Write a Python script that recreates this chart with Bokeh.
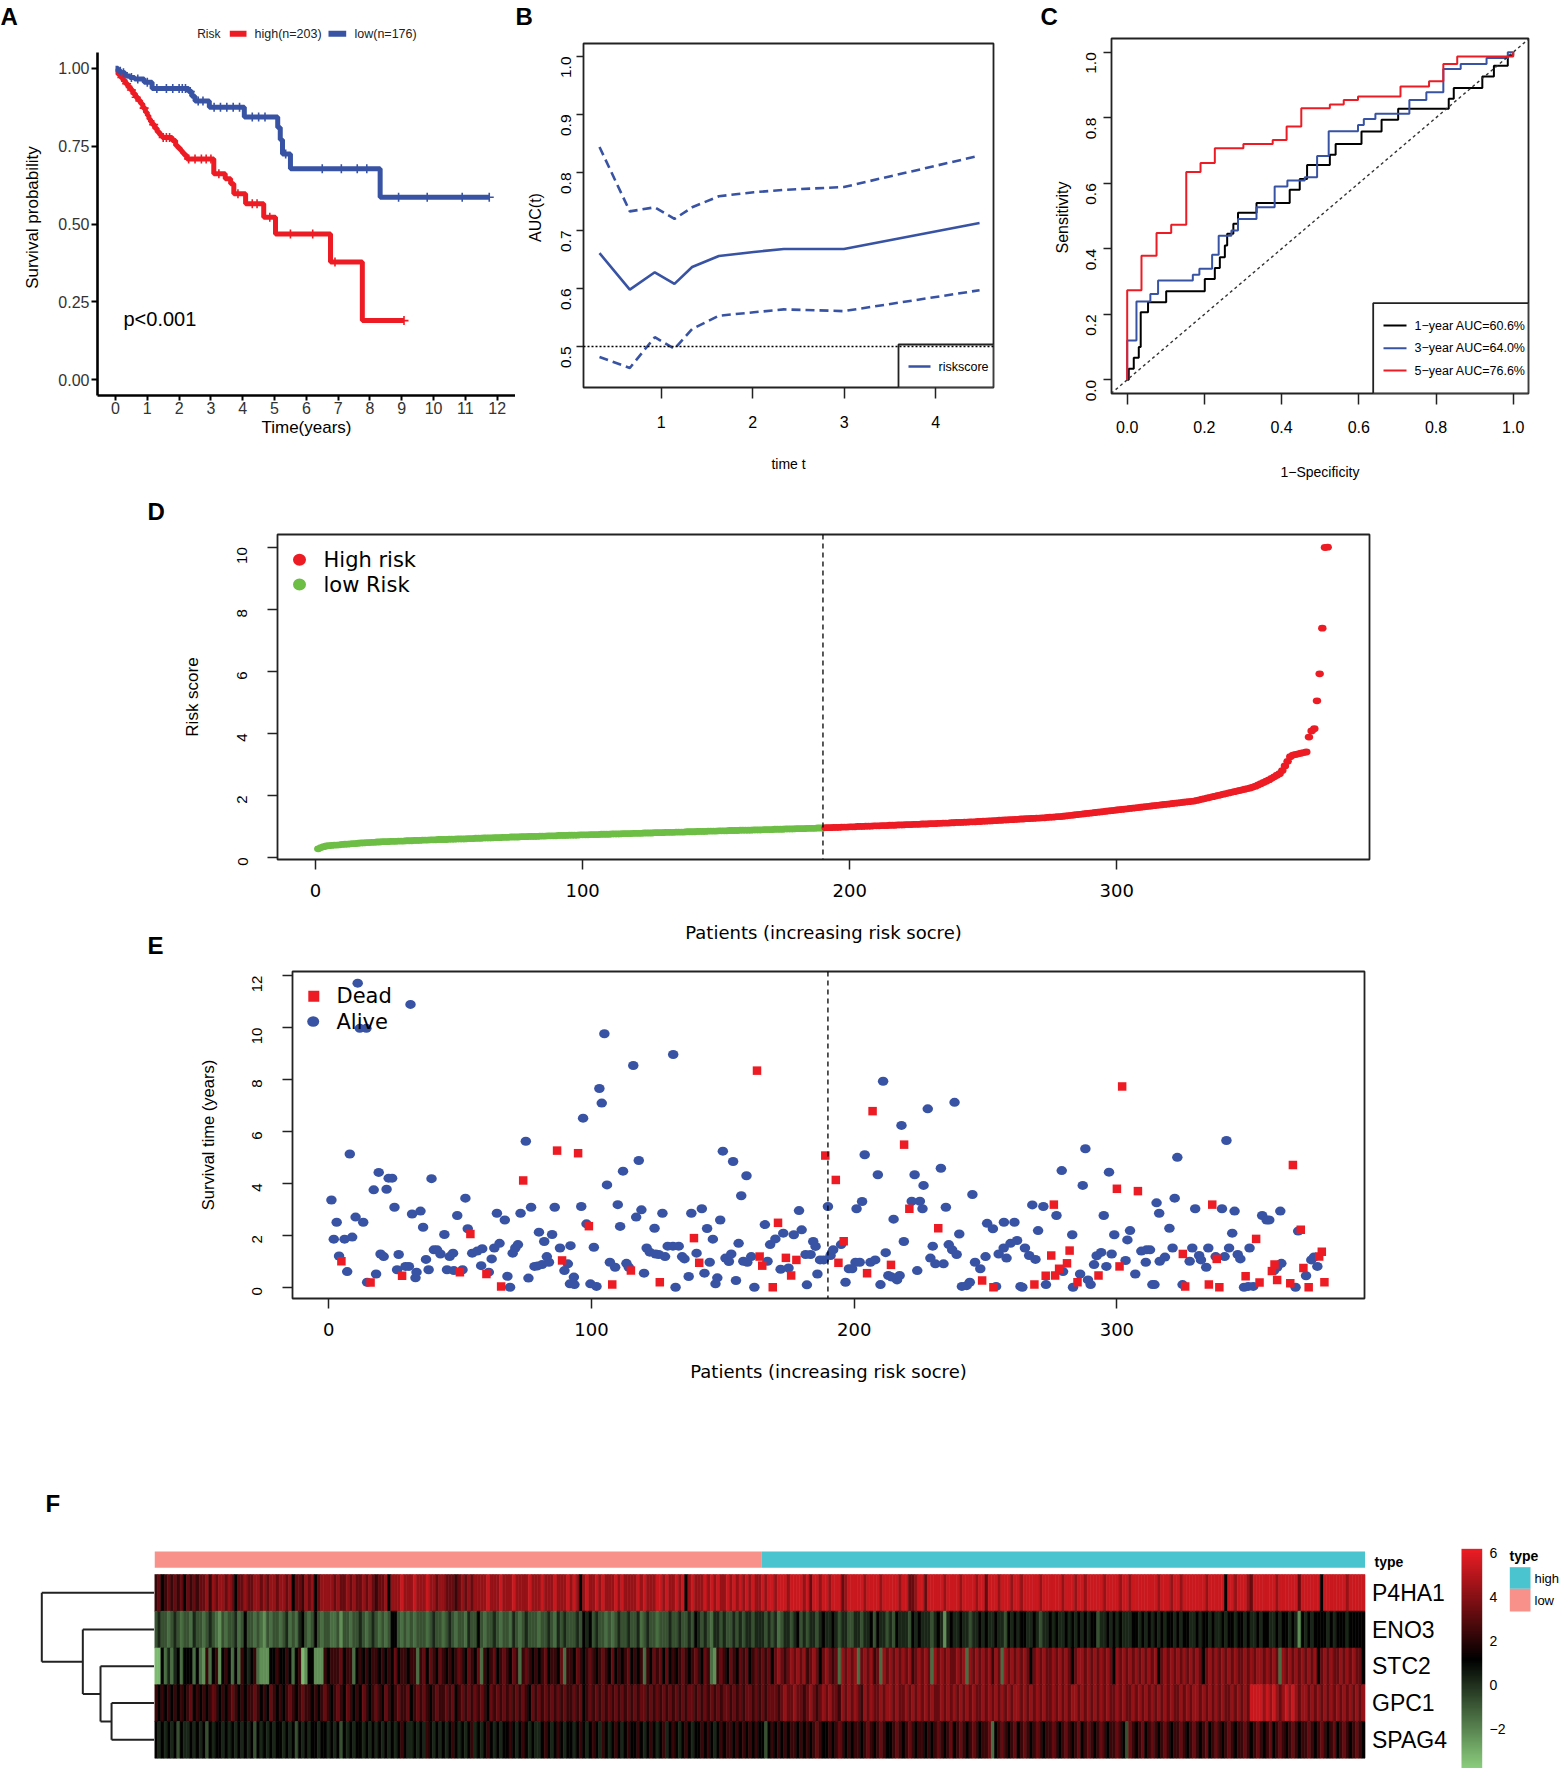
import math
import numpy as np
from bokeh.plotting import figure
from bokeh.layouts import column, row
from bokeh.models import Range1d, FixedTicker, Span, Slope, LinearColorMapper, NumeralTickFormatter
from bokeh.embed import file_html
from bokeh.resources import INLINE
from bokeh.core.properties import value

# ======================= DATA =======================
# A: Kaplan-Meier steps (time in years, survival after the step)
km_low_t = [0, 0.08, 0.18, 0.30, 0.45, 0.60, 0.90, 1.15, 2.30, 2.40, 2.50, 2.95, 4.05, 5.10, 5.18, 5.25, 5.50, 8.32, 11.75]
km_low_s = [1.0, 0.99, 0.985, 0.975, 0.97, 0.965, 0.955, 0.935, 0.925, 0.91, 0.895, 0.875, 0.843, 0.81, 0.77, 0.725, 0.677, 0.586, 0.586]
km_high_t = [0, 0.08, 0.16, 0.24, 0.31, 0.39, 0.47, 0.55, 0.63, 0.71, 0.79, 0.86, 0.94, 1.00, 1.05, 1.10, 1.15, 1.23, 1.31, 1.39,
             1.47, 1.78, 1.89, 1.96, 2.04, 2.10, 2.17, 2.25, 3.09, 3.45, 3.62, 3.72, 4.09, 4.66, 5.03, 6.76, 7.76, 9.07]
km_high_s = [0.99, 0.98, 0.97, 0.96, 0.95, 0.94, 0.93, 0.918, 0.907, 0.896, 0.886, 0.872, 0.859, 0.848, 0.837, 0.828, 0.819, 0.807, 0.795, 0.786,
             0.778, 0.768, 0.752, 0.744, 0.736, 0.728, 0.72, 0.709, 0.661, 0.645, 0.629, 0.597, 0.565, 0.522, 0.468, 0.378, 0.19, 0.19]
cens_low_t = [0.15, 0.25, 0.5, 0.7, 1.0, 1.3, 1.6, 1.8, 2.0, 2.1, 2.2, 2.35, 2.6, 2.75, 3.1, 3.3, 3.5, 3.7, 3.9, 4.3, 4.5, 4.7,
              5.35, 6.5, 7.1, 7.6, 7.9, 8.9, 9.8, 10.9, 11.75]
cens_high_t = [0.2, 0.35, 0.5, 0.65, 0.9, 1.2, 1.5, 1.6, 1.7, 2.3, 2.5, 2.7, 2.85, 3.0, 3.25, 3.85, 4.3, 4.45, 4.85, 5.5, 6.2, 6.9, 9.07]
km_labels = ["high(n=203)", "low(n=176)"]

# B: time-dependent AUC
auc_t = [0.326, 0.657, 0.930, 1.145, 1.338, 1.630, 2.012, 2.340, 2.996, 4.478]
auc_mid = [0.661, 0.598, 0.628, 0.608, 0.637, 0.656, 0.663, 0.668, 0.668, 0.713]
auc_up = [0.844, 0.733, 0.740, 0.720, 0.740, 0.759, 0.766, 0.770, 0.775, 0.829]
auc_lo = [0.482, 0.463, 0.516, 0.496, 0.530, 0.553, 0.559, 0.564, 0.561, 0.597]

# C: ROC curves
roc1_x = [0, 0.004, 0.017, 0.030, 0.035, 0.054, 0.101, 0.201, 0.227, 0.240, 0.253, 0.259, 0.275, 0.287, 0.335,
          0.421, 0.447, 0.466, 0.525, 0.540, 0.607, 0.659, 0.702, 0.833, 0.846, 0.920, 0.950, 0.986, 1.0]
roc1_y = [0, 0.034, 0.067, 0.100, 0.206, 0.237, 0.270, 0.308, 0.341, 0.374, 0.410, 0.446, 0.476, 0.510, 0.540,
          0.580, 0.613, 0.656, 0.687, 0.720, 0.758, 0.794, 0.827, 0.858, 0.891, 0.926, 0.959, 0.990, 1.0]
roc3_x = [0, 0, 0.024, 0.060, 0.080, 0.170, 0.187, 0.220, 0.237, 0.270, 0.287, 0.335, 0.382, 0.415, 0.460,
          0.492, 0.522, 0.598, 0.613, 0.643, 0.731, 0.775, 0.819, 0.864, 0.931, 0.986, 1.0]
roc3_y = [0, 0.12, 0.239, 0.262, 0.303, 0.321, 0.339, 0.382, 0.440, 0.456, 0.491, 0.527, 0.590, 0.608, 0.618,
          0.683, 0.759, 0.778, 0.796, 0.812, 0.854, 0.878, 0.949, 0.964, 0.982, 1.0, 1.0]
roc5_x = [0, 0, 0.037, 0.076, 0.114, 0.153, 0.190, 0.227, 0.301, 0.377, 0.413, 0.451, 0.525, 0.561, 0.598,
          0.708, 0.782, 0.819, 0.855, 1.0]
roc5_y = [0, 0.273, 0.379, 0.448, 0.473, 0.634, 0.662, 0.707, 0.720, 0.732, 0.773, 0.829, 0.840, 0.854, 0.865,
          0.895, 0.911, 0.964, 0.987, 1.0]
roc_labels = ["1\u2212year AUC=60.6%", "3\u2212year AUC=64.0%", "5\u2212year AUC=76.6%"]

# D: sorted risk scores (379 patients); first N_LOW are low risk
N_LOW = 190
risk_score = [
0.28,0.32,0.35,0.37,0.38,0.39,0.40,0.40,0.41,0.42,
0.43,0.43,0.44,0.45,0.45,0.46,0.47,0.47,0.48,0.48,
0.49,0.49,0.50,0.50,0.51,0.51,0.51,0.52,0.52,0.52,
0.53,0.53,0.53,0.54,0.54,0.54,0.55,0.55,0.55,0.56,
0.56,0.56,0.57,0.57,0.57,0.58,0.58,0.58,0.58,0.59,
0.59,0.59,0.60,0.60,0.60,0.60,0.61,0.61,0.61,0.62,
0.62,0.62,0.63,0.63,0.63,0.63,0.64,0.64,0.64,0.65,
0.65,0.65,0.66,0.66,0.66,0.66,0.67,0.67,0.67,0.68,
0.68,0.68,0.68,0.69,0.69,0.69,0.70,0.70,0.70,0.70,
0.71,0.71,0.71,0.71,0.72,0.72,0.72,0.72,0.73,0.73,
0.73,0.73,0.74,0.74,0.74,0.74,0.75,0.75,0.75,0.75,
0.76,0.76,0.76,0.76,0.77,0.77,0.77,0.77,0.78,0.78,
0.78,0.78,0.79,0.79,0.79,0.79,0.80,0.80,0.80,0.80,
0.81,0.81,0.81,0.81,0.82,0.82,0.82,0.82,0.83,0.83,
0.83,0.83,0.84,0.84,0.84,0.84,0.85,0.85,0.85,0.85,
0.86,0.86,0.86,0.86,0.87,0.87,0.87,0.87,0.88,0.88,
0.88,0.88,0.88,0.89,0.89,0.89,0.89,0.90,0.90,0.90,
0.90,0.91,0.91,0.91,0.91,0.92,0.92,0.92,0.92,0.93,
0.93,0.93,0.93,0.94,0.94,0.94,0.94,0.95,0.95,0.95,
0.96,0.96,0.96,0.97,0.97,0.97,0.98,0.98,0.98,0.99,
0.99,0.99,1.00,1.00,1.00,1.01,1.01,1.01,1.02,1.02,
1.02,1.03,1.03,1.03,1.04,1.04,1.04,1.05,1.05,1.05,
1.06,1.06,1.06,1.07,1.07,1.07,1.08,1.08,1.08,1.09,
1.09,1.09,1.10,1.10,1.11,1.11,1.11,1.12,1.12,1.13,
1.13,1.13,1.14,1.14,1.15,1.15,1.15,1.16,1.16,1.17,
1.17,1.18,1.18,1.19,1.19,1.20,1.20,1.21,1.21,1.22,
1.22,1.23,1.23,1.24,1.24,1.25,1.25,1.26,1.26,1.27,
1.27,1.28,1.28,1.29,1.30,1.30,1.31,1.32,1.32,1.33,
1.34,1.35,1.36,1.37,1.38,1.39,1.40,1.41,1.42,1.43,
1.44,1.45,1.46,1.47,1.48,1.49,1.50,1.51,1.52,1.53,
1.54,1.55,1.56,1.57,1.58,1.59,1.60,1.61,1.62,1.63,
1.64,1.65,1.66,1.67,1.68,1.69,1.70,1.71,1.72,1.73,
1.74,1.75,1.76,1.77,1.78,1.79,1.80,1.81,1.82,1.84,
1.86,1.88,1.90,1.92,1.94,1.96,1.98,2.00,2.02,2.04,
2.06,2.08,2.10,2.12,2.14,2.16,2.18,2.20,2.22,2.24,
2.27,2.30,2.34,2.38,2.42,2.46,2.50,2.55,2.60,2.65,
2.70,2.80,2.95,3.10,3.25,3.30,3.32,3.34,3.36,3.38,
3.40,3.88,4.08,4.15,5.05,5.92,7.39,9.99,10.00,
]

# E: survival time (years) by patient index
alive_idx = [
1.0,1.9,3.0,3.9,6.0,7.0,8.0,8.9,10.2,11.0,
11.8,13.1,14.3,14.6,17.1,18.0,19.0,19.7,20.9,22.0,
22.8,24.1,25.0,26.0,26.6,29.2,30.5,31.1,31.7,33.0,
33.4,34.9,35.9,37.0,38.0,39.1,40.0,41.2,42.5,44.0,
45.0,46.0,47.3,47.6,48.9,50.9,52.0,52.9,54.6,56.5,
58.0,58.4,60.9,62.0,63.0,64.0,65.0,67.0,68.0,69.0,
70.0,71.0,72.0,73.0,75.0,76.0,77.0,78.3,79.5,80.0,
81.2,82.0,83.0,83.8,85.0,86.0,88.0,89.7,91.0,91.8,
92.0,93.3,93.5,96.1,96.8,98.1,99.6,100.9,101.9,103.0,
103.9,104.9,105.9,107.0,109.0,110.0,110.9,112.0,113.3,114.2,
115.9,117.0,118.0,119.0,120.0,121.0,122.2,124.0,124.4,125.6,
127.0,128.0,129.0,131.0,131.1,132.0,133.2,134.5,135.4,137.0,
138.0,140.0,142.0,143.0,144.0,145.0,146.2,147.2,147.9,149.0,
150.0,151.0,152.3,153.2,153.9,155.0,156.0,157.0,157.8,159.0,
159.3,160.8,162.0,166.0,167.0,168.0,170.0,172.0,173.0,175.0,
177.0,179.0,180.0,181.5,182.0,183.4,184.4,185.3,186.0,187.0,
188.4,190.0,191.0,192.0,195.0,196.7,198.0,
199.2,200.5,200.9,202.1,203.0,204.0,206.2,208.0,209.0,210.0,
211.0,212.0,213.0,214.3,215.0,216.3,217.3,218.0,218.9,221.9,
223.0,224.0,225.0,226.0,226.4,228.0,229.0,229.9,230.9,233.0,
234.0,234.9,236.0,237.3,238.2,239.0,240.0,241.0,242.8,244.0,
245.0,246.0,248.0,250.0,250.6,252.8,254.0,255.0,256.9,257.0,
258.0,259.5,261.0,262.0,263.3,264.0,265.0,266.6,267.8,269.0,
270.0,272.0,273.0,277.0,279.0,279.5,283.0,283.3,286.0,287.0,
288.0,289.0,290.0,291.3,292.3,294.0,295.0,296.0,297.0,298.0,
299.0,303.3,304.0,305.0,
307.0,309.3,311.0,311.3,312.6,313.5,314.3,315.1,316.1,316.3,
318.3,320.0,321.2,322.0,323.0,325.0,327.7,328.7,329.8,331.3,
332.0,334.0,334.8,337.6,340.0,341.0,341.7,342.7,343.9,344.8,
346.0,347.0,348.4,350.0,350.5,351.9,355.3,357.0,358.0,359.8,
361.0,362.2,362.6,368.0,369.0,372.0,374.0,375.0,376.3,
]
alive_time = [
3.36,1.85,2.50,1.20,1.85,0.60,5.13,1.93,2.70,11.71,
9.97,2.50,9.97,0.19,3.75,0.51,4.42,1.28,1.18,3.77,
4.20,4.20,3.08,0.67,1.26,0.80,0.80,10.89,2.82,0.36,
0.58,2.93,2.31,1.07,0.67,4.18,1.44,1.44,1.28,2.03,
0.67,1.18,1.31,0.64,2.76,0.67,3.43,2.25,1.31,1.39,
0.83,1.48,0.58,1.09,1.51,2.85,1.69,2.59,0.42,0.00,
1.31,1.51,1.64,2.85,5.62,0.35,3.08,0.80,0.82,2.12,
0.87,1.76,1.18,0.96,2.03,3.08,1.51,0.64,0.90,0.13,
1.60,0.39,0.10,3.11,6.51,2.44,0.13,1.54,0.03,7.65,
7.09,9.76,3.94,0.96,0.77,3.18,2.34,4.47,0.92,0.77,
8.54,2.70,4.88,2.98,0.54,1.51,1.35,2.27,1.28,1.26,
2.85,1.18,1.58,1.58,8.96,0.00,1.58,1.18,1.09,0.41,
2.85,1.31,3.02,0.54,2.26,0.96,1.85,0.13,0.36,2.59,
5.24,1.12,0.99,1.28,4.84,0.26,1.69,3.52,1.00,4.29,
0.96,1.18,0.00,2.41,1.00,1.64,1.86,0.69,2.08,0.74,
2.02,2.95,2.21,1.26,0.09,1.26,1.76,1.57,0.51,1.05,
1.05,3.11,1.22,1.44,1.64,0.19,0.71,
0.71,0.96,3.02,0.96,3.30,5.10,0.96,1.05,4.33,0.10,
7.93,1.33,0.45,0.39,2.62,0.28,0.45,6.23,1.76,3.31,
4.33,0.64,3.31,3.02,3.92,6.87,1.12,1.58,0.90,4.58,
0.90,3.08,1.64,1.44,7.12,1.26,2.05,0.03,0.06,0.19,
3.57,0.96,0.71,1.18,2.46,2.25,0.03,1.28,1.51,2.50,
1.12,1.69,2.50,1.80,0.03,0.00,1.51,1.22,3.17,1.07,
2.18,3.11,0.10,2.76,4.49,0.60,2.02,0.00,0.51,3.92,
5.33,0.28,0.10,0.87,1.21,1.34,2.76,0.80,4.43,1.28,
2.02,1.03,1.82,2.18,
0.51,1.39,0.96,1.44,1.44,0.10,0.10,3.25,2.85,1.00,
1.16,2.27,1.51,3.43,5.00,0.10,1.00,1.51,3.02,1.22,
1.05,0.77,1.51,1.18,3.02,1.18,5.65,1.51,2.08,2.93,
1.26,1.09,0.00,0.03,1.51,0.03,2.76,2.59,2.59,0.64,
0.77,2.93,0.92,0.00,2.16,0.44,1.05,1.16,0.80,
]
dead_idx = [
4.8,15.9,27.9,49.9,53.9,60.0,65.6,74.0,86.9,88.8,
94.9,99.0,107.9,115.0,126.0,139.0,141.0,163.0,164.0,165.0,
169.0,171.0,174.0,176.0,178.0,189.0,193.0,194.0,196.0,204.9,
207.0,214.0,219.0,221.0,232.0,248.7,253.0,268.6,272.9,275.0,
276.0,276.5,278.0,281.0,282.0,285.0,293.0,300.0,301.0,302.0,
308.0,325.1,326.0,335.0,336.3,338.0,339.0,349.0,353.0,354.3,
359.0,360.0,361.0,366.0,367.0,370.0,371.0,373.0,377.0,378.0,
379.0,
]
dead_time = [
1.00,0.18,0.44,0.58,2.05,0.51,0.03,4.11,5.26,1.03,
5.16,2.35,0.10,0.64,0.19,1.89,0.94,8.34,1.18,0.83,
0.00,2.48,1.13,0.45,1.05,5.07,4.13,0.94,1.77,0.54,
6.78,0.86,5.49,3.02,2.27,0.26,0.00,0.10,0.44,1.22,
3.18,0.45,0.71,0.92,1.41,0.19,0.45,3.79,0.80,7.73,
3.70,1.28,0.03,0.10,3.18,1.09,0.00,0.42,1.86,0.18,
0.62,0.87,0.28,0.15,4.71,2.21,0.74,0.00,1.18,1.37,
0.19,
]

# F: heatmap, one digit per patient column (levels below), rows top->bottom
genes = ["P4HA1", "ENO3", "STC2", "GPC1", "SPAG4"]
hm_levels = [-3.3, -2.3, -1.5, -0.8, 0.2, 1.2, 2.3, 3.3, 4.3, 5.4]
hm_P4HA1 = ("6756767675 7676778687 8878757787 7887878878 8785776878 5788887877 8787787876 7785888988 8988898878 8777678787 "
            "8888988898 8898888988 8988898889 8985898898 9888989888 8989888998 9889895898 8898989889 8989898988 "
            "9899899989 9998979989 9899978999 9989999899 9998997789 9799999899 9989999899 7999899989 9899999899 9999899989 "
            "9899999899 9989989999 9999899989 9899999998 9999959989 9987999999 9899999979 9999959999 999899999")
hm_ENO3 = ("3433234323 3243323432 1323342353 3232132332 3423245323 5323322313 3233432343 2323553232 3233323433 2343233243 "
           "3532334323 3243234333 2334324343 3343545343 3232343343 3423433233 3433433435 4343244343 3434344344 "
           "4343423443 4534344345 4454344334 4344535443 4354443545 4443454145 4454434454 5445443545 4554454344 5454454545 "
           "4545534454 5454445545 4545454554 5455445455 4544545545 5454454554 4545545415 4545555454 555455555")
hm_STC2 = ("0052424525 5525216256 1565252654 5621115565 5652560155 1116566675 6625656566 5656575665 6626757657 6565676576 "
           "5726567567 6576267656 5675665726 6576567656 7657565675 6562657675 7565676567 6576216765 7657675676 "
           "7675787678 7878678757 8767287878 2787867287 8787878678 7872878787 7878287878 7868728787 8787578787 7878787578 "
           "8787878787 5878787878 7878578787 8787878757 8787878787 7878788787 8728787878 7878578787 787878775")
hm_GPC1 = ("6565656565 6756565676 5656765656 6765657656 5676567665 6567656765 7656576567 6576567667 5676765676 6767567676 "
           "7676576767 6767676576 7676767676 6767567676 7676767676 7677676767 6767676776 7676767677 6767677676 "
           "7677767877 8776787678 7877687878 7687877878 8787787878 7878778787 8787878778 7878787878 8787878787 7878787887 "
           "8787878787 7878778787 8787878787 7878788787 8787877878 7879999898 9878989878 8787878787 878787878")
hm_SPAG4 = ("5454545354 4545453545 5454545454 5354545455 4545354545 5455454535 4545545454 5454545654 4545465454 5456545456 "
            "4545654545 5654565454 4565456545 5456545654 6545654565 5654565456 4565456545 5656545656 6565656565 "
            "5356565656 6565656765 5656765656 6567656765 5676567656 6565676567 5676567656 6725676567 5676567656 6765676567 "
            "5676567656 6765376567 5676567656 6765676567 5676567656 6765676567 5676567656 6765676567 567656765")
hm_rows = [hm_P4HA1, hm_ENO3, hm_STC2, hm_GPC1, hm_SPAG4]
# dendrogram merges (child a, child b, height)
dend = [("GPC1", "SPAG4", 0.381), ("STC2", "m1", 0.479), ("ENO3", "m2", 0.636), ("P4HA1", "m3", 1.0)]
cb_ticks = [6, 4, 2, 0, -2]

# ======================= STYLE =======================
REG = "Liberation Sans"
DJV = "DejaVu Sans"
RED = "#ED1C24"
BLUE = "#3953A4"
GREEN = "#6DBE45"
PINK = "#F8918A"
CYAN = "#4AC4CF"
HM_LOW, HM_MID, HM_HIGH = -3.9, 1.14, 6.18
LOWC = (0x8E, 0xD2, 0x80)
HIGHC = (0xEE, 0x1D, 0x25)


def hm_color(v):
    if v <= HM_MID:
        f = min(1.0, (HM_MID - v) / (HM_MID - HM_LOW))
        c = LOWC
    else:
        f = min(1.0, (v - HM_MID) / (HM_HIGH - HM_MID))
        c = HIGHC
    return "#%02x%02x%02x" % tuple(int(round(ch * f)) for ch in c)


def base_fig(w, h, xr, yr, borders=(0, 0, 0, 0), axes=True):
    l, r, t, b = borders
    kw = {} if axes else dict(x_axis_location=None, y_axis_location=None)
    p = figure(width=w, height=h, title=None, x_range=xr, y_range=yr,
               min_border_left=l, min_border_right=r, min_border_top=t, min_border_bottom=b,
               output_backend="svg", toolbar_location=None,
               background_fill_color="white", border_fill_color="white", **kw)
    p.grid.visible = False
    if not axes:
        p.outline_line_color = None
    return p


def panel(fig_box, frame_box, xcal, ycal):
    fx0, fy0, fx1, fy1 = fig_box
    lx0, ly0, lx1, ly1 = frame_box
    ax = (xcal[2] - xcal[0]) / (xcal[3] - xcal[1])
    ay = (ycal[2] - ycal[0]) / (ycal[3] - ycal[1])
    X = lambda px: xcal[0] + (px - xcal[1]) * ax
    Y = lambda py: ycal[0] + (py - ycal[1]) * ay
    p = base_fig(fx1 - fx0, fy1 - fy0, Range1d(X(lx0), X(lx1)), Range1d(Y(ly1), Y(ly0)),
                 (lx0 - fx0, fx1 - lx1, ly0 - fy0, fy1 - ly1))
    return p, X, Y


def strip(x0, y0, x1, y1):
    # annotation strip: page-pixel coordinates, y grows downward
    return base_fig(x1 - x0, y1 - y0, Range1d(x0, x1), Range1d(y1, y0), axes=False)


def style_axes(ax, font, size, tick_out, standoff, color="black"):
    ax.major_label_text_font = font
    ax.major_label_text_font_size = size
    ax.major_label_text_color = color
    ax.major_tick_out = tick_out
    ax.major_tick_in = 0
    ax.minor_tick_line_color = None
    ax.major_label_standoff = standoff


def style_label(ax, text, font, size, standoff):
    ax.axis_label = text
    ax.axis_label_text_font = font
    ax.axis_label_text_font_size = size
    ax.axis_label_text_font_style = "normal"
    ax.axis_label_text_color = "black"
    ax.axis_label_standoff = standoff


def r_box(p):
    p.outline_line_color = "#222222"
    p.outline_line_width = 1.8
    for ax in (p.xaxis[0], p.yaxis[0]):
        ax.axis_line_color = None
        ax.major_tick_line_color = "#222222"
        ax.major_tick_line_width = 1.5


def letter(p, txt, x, y):
    # y = vertical centre of the capital letter
    p.text(x=[x], y=[y], text=[txt], text_font=value(REG), text_font_style="bold", text_font_size="24px",
           text_align="left", text_baseline="middle", text_color="black")


def vtext(p, txt, x, y, size, font=REG):
    p.text(x=[x], y=[y], text=[txt], angle=math.pi / 2, text_font=value(font), text_font_size=size,
           text_align="center", text_baseline="middle", text_color="black")


# ======================= A =======================
LA = strip(0, 0, 52, 490)
letter(LA, "A", 0, 15.5)
vtext(LA, "Survival probability", 32, 217, "17px")

pA, XA, YA = panel((52, 0, 515, 490), (97, 0, 515, 395), (0, 115, 12, 496.7), (0, 379.3, 1, 67.7))
pA.outline_line_color = None
for ax in (pA.xaxis[0], pA.yaxis[0]):
    ax.axis_line_width = 2.6
    ax.axis_line_color = "black"
    ax.major_tick_line_width = 2
    ax.major_tick_line_color = "black"
style_axes(pA.xaxis[0], REG, "16px", 5, 1, "#333333")
style_axes(pA.yaxis[0], REG, "16px", 6, 2, "#333333")
pA.xaxis.ticker = FixedTicker(ticks=list(range(0, 13)))
pA.yaxis.ticker = FixedTicker(ticks=[0, 0.25, 0.5, 0.75, 1.0])
pA.yaxis.formatter = NumeralTickFormatter(format="0.00")
pA.yaxis[0].bounds = (YA(395), YA(52))
style_label(pA.xaxis[0], "Time(years)", REG, "17px", 1)

pA.step(km_high_t, km_high_s, mode="after", line_color=RED, line_width=5)
pA.step(km_low_t, km_low_s, mode="after", line_color=BLUE, line_width=5)
for ct, kt, ks, col in ((cens_high_t, km_high_t, km_high_s, RED), (cens_low_t, km_low_t, km_low_s, BLUE)):
    idx = np.searchsorted(np.array(kt), np.array(ct), side="right") - 1
    pA.scatter(ct, [ks[i] for i in idx], marker="cross", size=9, line_color=col, line_width=1.6)
pA.text(x=[XA(123)], y=[YA(318)], text=["p<0.001"], text_font=value(REG), text_font_size="20px",
        text_baseline="middle", text_align="left", text_color="black")
ly = YA(33.3)
pA.text(x=[XA(196.7)], y=[ly], text=["Risk"], text_font=value(REG), text_font_size="12px",
        text_baseline="middle", text_color="#222222")
pA.segment(x0=[XA(229.3), XA(328)], y0=[ly, ly], x1=[XA(246), XA(345.7)], y1=[ly, ly],
           line_color=[RED, BLUE], line_width=6)
pA.text(x=[XA(254), XA(354)], y=[ly, ly], text=km_labels, text_font=value(REG), text_font_size="12.5px",
        text_baseline="middle", text_color="#222222")

# ======================= B =======================
LB = strip(515, 0, 548, 490)
letter(LB, "B", 515, 16)
vtext(LB, "AUC(t)", 535, 217, "16px")

pB, XB, YB = panel((548, 0, 1038, 490), (583, 43, 993, 387), (1, 660.7, 4, 935.3), (0.5, 346, 1.0, 56))
r_box(pB)
style_axes(pB.xaxis[0], REG, "16px", 11, 17)
style_axes(pB.yaxis[0], REG, "15.5px", 7, 11)
pB.yaxis[0].major_label_orientation = math.pi / 2
pB.xaxis.ticker = FixedTicker(ticks=[1, 2, 3, 4])
pB.yaxis.ticker = FixedTicker(ticks=[0.5, 0.6, 0.7, 0.8, 0.9, 1.0])
pB.yaxis.formatter = NumeralTickFormatter(format="0.0")
style_label(pB.xaxis[0], "time t", REG, "14px", 25)
pB.add_layout(Span(location=0.5, dimension="width", line_color="black", line_width=1.4, line_dash="2 2"))
pB.line(auc_t, auc_mid, line_color=BLUE, line_width=2.6)
pB.line(auc_t, auc_up, line_color=BLUE, line_width=2.6, line_dash="9 5")
pB.line(auc_t, auc_lo, line_color=BLUE, line_width=2.6, line_dash="9 5")
pB.quad(left=[XB(898)], right=[XB(993)], bottom=[YB(387)], top=[YB(344)], fill_color="white",
        line_color="#222222", line_width=1.8)
pB.segment(x0=[XB(908)], y0=[YB(366)], x1=[XB(930)], y1=[YB(366)], line_color=BLUE, line_width=2.6)
pB.text(x=[XB(938)], y=[YB(366)], text=["riskscore"], text_font=value(REG), text_font_size="12.5px",
        text_baseline="middle", text_color="black")

# ======================= C =======================
LC = strip(1038, 0, 1075, 490)
letter(LC, "C", 1040, 16)
vtext(LC, "Sensitivity", 1061.7, 217, "16px")

pC, XC, YC = panel((1075, 0, 1560, 490), (1111, 38, 1528, 393), (0, 1126.7, 1, 1512.7), (0, 379.3, 1, 51.7))
r_box(pC)
style_axes(pC.xaxis[0], REG, "16px", 11, 16)
style_axes(pC.yaxis[0], REG, "15.5px", 8, 12)
pC.yaxis[0].major_label_orientation = math.pi / 2
pC.xaxis.ticker = FixedTicker(ticks=[0, 0.2, 0.4, 0.6, 0.8, 1.0])
pC.yaxis.ticker = FixedTicker(ticks=[0, 0.2, 0.4, 0.6, 0.8, 1.0])
pC.xaxis.formatter = NumeralTickFormatter(format="0.0")
pC.yaxis.formatter = NumeralTickFormatter(format="0.0")
style_label(pC.xaxis[0], "1\u2212Specificity", REG, "14px", 28)
pC.add_layout(Slope(gradient=1, y_intercept=0, line_color="#333333", line_width=1.4, line_dash="3 3"))
pC.step(roc1_x, roc1_y, mode="after", line_color="black", line_width=2)
pC.step(roc3_x, roc3_y, mode="after", line_color=BLUE, line_width=2)
pC.step(roc5_x, roc5_y, mode="after", line_color=RED, line_width=2)
pC.quad(left=[XC(1372.7)], right=[XC(1528)], bottom=[YC(393)], top=[YC(302.7)], fill_color="white",
        line_color="#222222", line_width=1.8)
leg_y = [YC(325), YC(347.7), YC(370)]
pC.segment(x0=[XC(1383)] * 3, y0=leg_y, x1=[XC(1406)] * 3, y1=leg_y, line_color=["black", BLUE, RED], line_width=2)
pC.text(x=[XC(1414)] * 3, y=leg_y, text=roc_labels, text_font=value(REG), text_font_size="12.5px",
        text_baseline="middle", text_color="black")

# ======================= D =======================
LD = strip(0, 490, 170, 960)
letter(LD, "D", 147, 511)
letter(LD, "E", 147, 944.5)

pD, XD, YD = panel((170, 490, 1560, 960), (277, 534, 1369, 859), (0, 315.1, 300, 1116.2), (0, 857, 10, 546.7))
r_box(pD)
style_axes(pD.xaxis[0], DJV, "18px", 10, 14)
style_axes(pD.yaxis[0], REG, "15px", 10, 25)
pD.yaxis[0].major_label_orientation = math.pi / 2
pD.xaxis.ticker = FixedTicker(ticks=[0, 100, 200, 300])
pD.yaxis.ticker = FixedTicker(ticks=[0, 2, 4, 6, 8, 10])
style_label(pD.xaxis[0], "Patients (increasing risk socre)", DJV, "18px", 22)
style_label(pD.yaxis[0], "Risk score", REG, "17px", 28)
pat = list(range(1, len(risk_score) + 1))
pD.ellipse(x=pat[:N_LOW], y=risk_score[:N_LOW], width=8.5, height=6.8, width_units="screen",
           height_units="screen", fill_color=GREEN, line_color=None)
pD.ellipse(x=pat[N_LOW:], y=risk_score[N_LOW:], width=8.5, height=6.8, width_units="screen",
           height_units="screen", fill_color=RED, line_color=None)
pD.add_layout(Span(location=N_LOW, dimension="height", line_color="black", line_width=1.3, line_dash="5 4"))
pD.ellipse(x=[XD(299), XD(299)], y=[YD(559.3), YD(584)], width=13, height=12, width_units="screen",
           height_units="screen", fill_color=[RED, GREEN], line_color=None)
pD.text(x=[XD(323), XD(323)], y=[YD(559.3), YD(584)], text=["High risk", "low Risk"], text_font=value(DJV),
        text_font_size="21px", text_baseline="middle", text_color="black")

# ======================= E =======================
pE, XE, YE = panel((0, 960, 1560, 1440), (292, 971, 1364, 1298), (0, 328.3, 300, 1116.4), (0, 1286.7, 12, 975.1))
r_box(pE)
style_axes(pE.xaxis[0], DJV, "18px", 10, 14)
style_axes(pE.yaxis[0], REG, "15px", 10, 25)
pE.yaxis[0].major_label_orientation = math.pi / 2
pE.xaxis.ticker = FixedTicker(ticks=[0, 100, 200, 300])
pE.yaxis.ticker = FixedTicker(ticks=[0, 2, 4, 6, 8, 10, 12])
style_label(pE.xaxis[0], "Patients (increasing risk socre)", DJV, "18px", 22)
style_label(pE.yaxis[0], "Survival time (years)", REG, "16.5px", 28)
pE.ellipse(x=alive_idx, y=alive_time, width=10.5, height=9, width_units="screen", height_units="screen",
           fill_color=BLUE, line_color=None)
pE.scatter(x=dead_idx, y=dead_time, marker="square", size=8.5, fill_color=RED, line_color=None)
pE.add_layout(Span(location=N_LOW, dimension="height", line_color="black", line_width=1.3, line_dash="5 4"))
pE.scatter(x=[XE(313.3)], y=[YE(995.7)], marker="square", size=11, fill_color=RED, line_color=None)
pE.ellipse(x=[XE(312.7)], y=[YE(1021)], width=12, height=10.5, width_units="screen", height_units="screen",
           fill_color=BLUE, line_color=None)
pE.text(x=[XE(336), XE(336)], y=[YE(995.7), YE(1021)], text=["Dead", "Alive"], text_font=value(DJV),
        text_font_size="21px", text_baseline="middle", text_color="black")

# ======================= F =======================
cells = [[hm_levels[int(ch)] for ch in "".join(r.split())] for r in hm_rows]
NC = min(len(r) for r in cells)
PPC = (1364.5 - 154) / len(risk_score)       # px per patient column
ROWH = 36.74
FX = lambda px: (px - 154) / PPC
FY = lambda py: (1757.7 - py) / ROWH
CB = lambda py: 6 + (1552.3 - py) / 22.0

DPX = 112.7
pFd = base_fig(154, 328, Range1d(154 / DPX, 0), Range1d(FY(1768), FY(1440)), axes=False)
pos = {g: (0.0, len(genes) - 0.5 - i) for i, g in enumerate(genes)}
sx0, sy0, sx1, sy1 = [], [], [], []
for k, (a, b, h) in enumerate(dend):
    (ha, ya), (hb, yb) = pos[a], pos[b]
    sx0 += [ha, hb, h]; sy0 += [ya, yb, ya]; sx1 += [h, h, h]; sy1 += [ya, yb, yb]
    pos["m%d" % (k + 1)] = (h, (ya + yb) / 2)
pFd.segment(x0=sx0, y0=sy0, x1=sx1, y1=sy1, line_color="#222222", line_width=2)
letter(pFd, "F", (154 - 45) / DPX, FY(1503))

pFm = base_fig(1406, 328, Range1d(0, FX(1560)), Range1d(FY(1768), FY(1440)), axes=False)
pFm.extra_y_ranges = {"cb": Range1d(CB(1768), CB(1440))}
hx, hy, hc = [], [], []
for i, rowv in enumerate(cells):
    for j in range(NC):
        hx.append(j + 0.5)
        hy.append(len(genes) - 0.5 - i)
        hc.append(hm_color(rowv[j]))
pFm.rect(x=hx, y=hy, width=1, height=1, fill_color=hc, line_color=hc, line_width=0.6)
pFm.quad(left=[0, N_LOW], right=[N_LOW, NC], bottom=[FY(1567.3)] * 2, top=[FY(1551)] * 2,
         fill_color=[PINK, CYAN], line_color=None)
pFm.text(x=[FX(1371.5)] * len(genes), y=[len(genes) - 0.5 - i for i in range(len(genes))], text=genes,
         text_font=value(REG), text_font_size="23px", text_baseline="middle", text_color="black")
pFm.text(x=[FX(1374)], y=[FY(1561)], text=["type"], text_font=value(REG), text_font_style="bold",
         text_font_size="14px", text_baseline="middle", text_color="black")
grad = np.linspace(HM_LOW, HM_HIGH, 256).reshape(256, 1)
cmap = LinearColorMapper(palette=[hm_color(v) for v in np.linspace(HM_LOW, HM_HIGH, 256)], low=HM_LOW, high=HM_HIGH)
pFm.image(image=[grad], x=FX(1461), y=HM_LOW, dw=FX(1481.7) - FX(1461), dh=HM_HIGH - HM_LOW,
          color_mapper=cmap, y_range_name="cb")
pFm.text(x=[FX(1489)] * len(cb_ticks), y=cb_ticks, text=[str(t).replace("-", "\u2212") for t in cb_ticks],
         y_range_name="cb", text_font=value(REG), text_font_size="14px", text_baseline="middle", text_color="black")
pFm.text(x=[FX(1509)], y=[FY(1555)], text=["type"], text_font=value(REG), text_font_style="bold",
         text_font_size="14px", text_baseline="middle", text_color="black")
pFm.quad(left=[FX(1509.3)] * 2, right=[FX(1530)] * 2, bottom=[FY(1588.3), FY(1611)], top=[FY(1566.7), FY(1588.3)],
         fill_color=[CYAN, PINK], line_color=None)
pFm.text(x=[FX(1534)] * 2, y=[FY(1577.5), FY(1599.6)], text=["high", "low"], text_font=value(REG),
         text_font_size="13px", text_baseline="middle", text_color="black")

W = column
layout = column(
    row(W(LA), W(pA), W(LB), W(pB), W(LC), W(pC)),
    row(W(LD), W(pD)),
    W(pE),
    row(W(pFd), W(pFm)),
)
open("out.html", "w").write(file_html(layout, INLINE))
